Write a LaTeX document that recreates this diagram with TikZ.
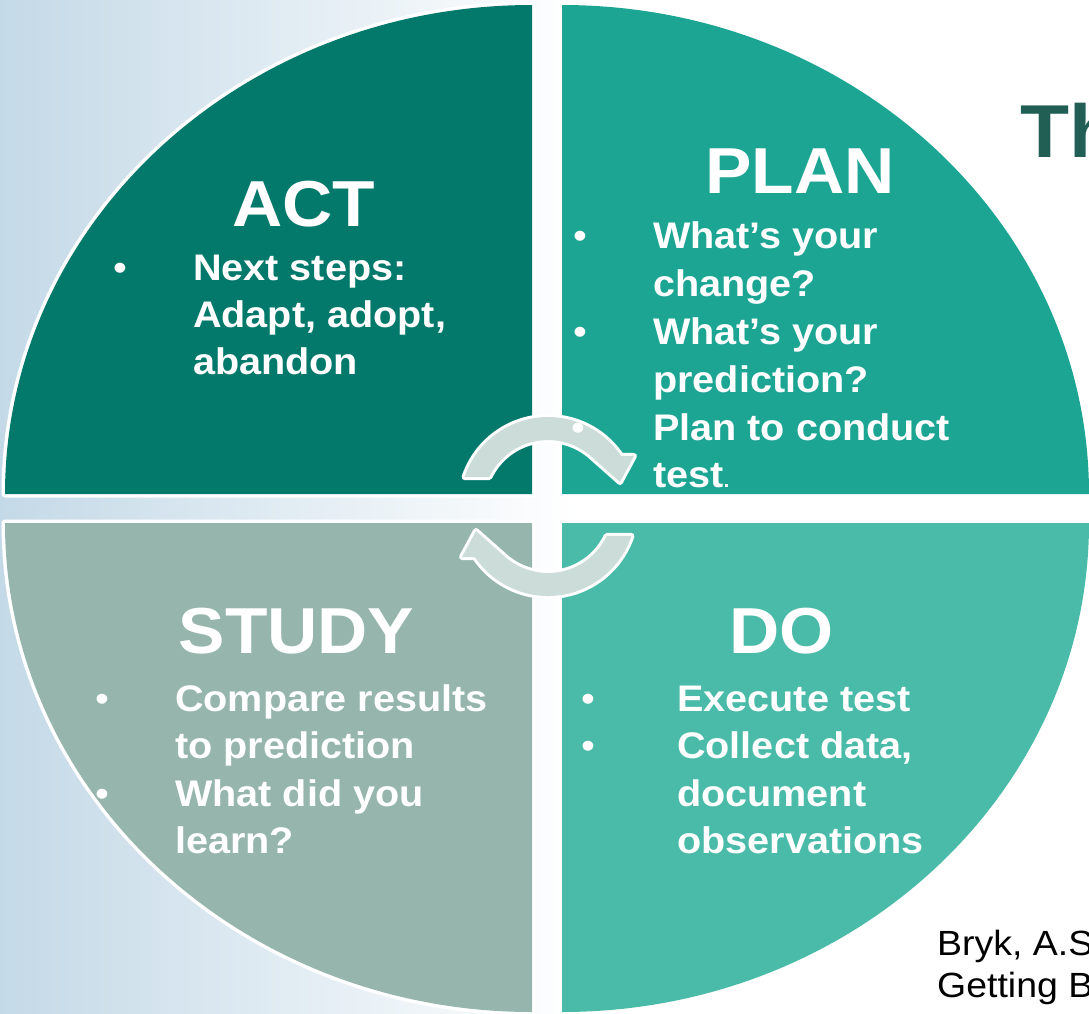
\documentclass[tikz,border=0pt]{standalone}
\usepackage{fontspec}
\setmainfont{Liberation Sans}
\newfontfamily\pdsafont[FakeStretch=1.07]{Liberation Sans}
\definecolor{actc}{RGB}{3,121,107}
\definecolor{planc}{RGB}{29,165,147}
\definecolor{studyc}{RGB}{149,181,173}
\definecolor{doc}{RGB}{74,187,168}
\definecolor{arrowc}{RGB}{204,220,216}
\definecolor{bgblue}{RGB}{196,217,231}
\definecolor{headc}{RGB}{33,95,85}
\newcommand\pdsaarrowpath{(-161.5:88) arc[start angle=-161.5,end angle=-34,radius=88] -- (86,-49) -- (72,-23) -- (-47:65) arc[start angle=-47,end angle=-154.5,radius=65] -- cycle}
\begin{document}
\begin{tikzpicture}[x=1pt,y=-1pt,
  halo/.style={draw=white,line width=7pt,line join=round},
  arrowhalo/.style={draw=white,line width=6pt,line join=round},
  cyclearrow/.style={fill=arrowc},
  titletxt/.style={text=white,inner sep=0pt,anchor=base,font=\pdsafont\bfseries\fontsize{65}{70}\selectfont},
  bodytxt/.style={text=white,inner sep=0pt,anchor=base west,font=\pdsafont\bfseries\fontsize{37}{44}\selectfont},
  bullettxt/.style={text=white,inner sep=0pt,anchor=base,font=\pdsafont\fontsize{37}{44}\selectfont},
  reftxt/.style={text=black,inner sep=0pt,anchor=base west,font=\pdsafont\fontsize{35}{40}\selectfont}]
\useasboundingbox (0,0) rectangle (1089,1013);
\clip (0,0) rectangle (1089,1013);
% background
\fill[white] (0,0) rectangle (1089,1013);
\shade[left color=bgblue,right color=white] (0,0) rectangle (575,1013);
% quadrants: halo then fill
\path[halo] (532,494) -- (5,494) arc[start angle=180,end angle=270,x radius=527,y radius=489] -- cycle;
\path[halo] (562,494) -- (562,5) arc[start angle=270,end angle=360,x radius=527,y radius=489] -- cycle;
\path[halo] (532,523) -- (5,523) arc[start angle=180,end angle=90,x radius=527,y radius=489] -- cycle;
\path[halo] (562,523) -- (1089,523) arc[start angle=0,end angle=90,x radius=527,y radius=489] -- cycle;
\fill[actc] (532,494) -- (5,494) arc[start angle=180,end angle=270,x radius=527,y radius=489] -- cycle;
\fill[planc] (562,494) -- (562,5) arc[start angle=270,end angle=360,x radius=527,y radius=489] -- cycle;
\fill[studyc] (532,523) -- (5,523) arc[start angle=180,end angle=90,x radius=527,y radius=489] -- cycle;
\fill[doc] (562,523) -- (1089,523) arc[start angle=0,end angle=90,x radius=527,y radius=489] -- cycle;
% cycle arrows
\begin{scope}[shift={(548,505)}]
  \path[arrowhalo] \pdsaarrowpath;
  \path[cyclearrow] \pdsaarrowpath;
\end{scope}
\begin{scope}[rotate around={180:(548,506.5)},shift={(548,505)}]
  \path[arrowhalo] \pdsaarrowpath;
  \path[cyclearrow] \pdsaarrowpath;
\end{scope}
% ACT
\node[titletxt] (actT) at (303.5,226) {ACT};
\node[bullettxt] (actB1) at (120,280) {•};
\node[bodytxt] (act1) at (193,280) {Next steps:};
\node[bodytxt] (act2) at (193,327) {Adapt, adopt,};
\node[bodytxt] (act3) at (193,374) {abandon};
% PLAN
\node[titletxt] (planT) at (800,193) {PLAN};
\node[bullettxt] (planB1) at (580,248) {•};
\node[bullettxt] (planB2) at (580,344) {•};
\node[bullettxt] (planB3) at (578,440) {•};
\node[bodytxt] (plan1) at (653,248) {What’s your};
\node[bodytxt] (plan2) at (653,296) {change?};
\node[bodytxt] (plan3) at (653,344) {What’s your};
\node[bodytxt] (plan4) at (653,392) {prediction?};
\node[bodytxt] (plan5) at (653,440) {Plan to conduct};
\node[bodytxt] (plan6) at (653,487) {test{\fontsize{20}{20}\selectfont.}};
% STUDY
\node[titletxt] (studyT) at (296.5,653) {STUDY};
\node[bullettxt] (studyB1) at (102,711) {•};
\node[bullettxt] (studyB2) at (102,806) {•};
\node[bodytxt] (study1) at (175,711) {Compare results};
\node[bodytxt] (study2) at (175,758.5) {to prediction};
\node[bodytxt] (study3) at (175,806) {What did you};
\node[bodytxt] (study4) at (175,853.5) {learn?};
% DO
\node[titletxt] (doT) at (781.5,653) {DO};
\node[bullettxt] (doB1) at (588,711) {•};
\node[bullettxt] (doB2) at (588,758.5) {•};
\node[bodytxt] (do1) at (677,711) {Execute test};
\node[bodytxt] (do2) at (677,758.5) {Collect data,};
\node[bodytxt] (do3) at (677,806) {document};
\node[bodytxt] (do4) at (677,853.5) {observations};
% heading and reference
\node[inner sep=0pt,anchor=base west,text=headc,font=\pdsafont\bfseries\fontsize{75}{80}\selectfont] (head) at (1020,157) {Th};
\node[reftxt] (ref1) at (937,955) {Bryk, A.S};
\node[reftxt] (ref2) at (937,997) {Getting B};
\end{tikzpicture}
\end{document}
